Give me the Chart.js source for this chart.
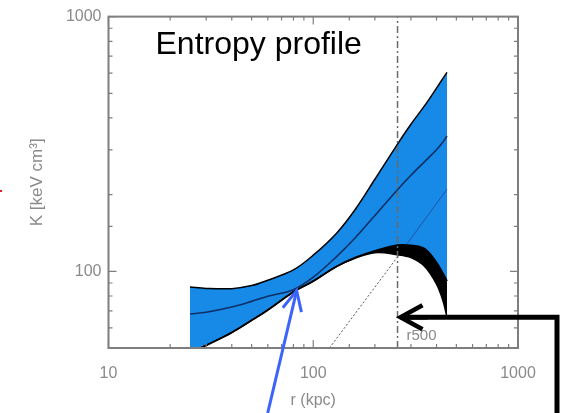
<!DOCTYPE html>
<html>
<head>
<meta charset="utf-8">
<script src="https://cdn.jsdelivr.net/npm/chart.js@4.4.1/dist/chart.umd.min.js"></script>
<style>
  html, body { margin: 0; padding: 0; background: #ffffff; }
  canvas { display: block; }
</style>
</head>
<body>
<canvas id="c" width="574" height="413"></canvas>
<script>
// Radius grid (kpc) shared by the profile curves
const radius = [25, 30, 40, 50, 60, 80, 100, 130, 160, 200, 258, 300, 350, 400, 430, 450];
// Upper envelope of the entropy band (keV cm^2)
const upperK = [86.8, 85.7, 85.5, 87.9, 92.3, 101.3, 115.7, 141.2, 174.5, 229.8, 316, 378, 447, 524, 572, 604];
// Best-fit entropy profile
const bestK = [68.0, 69.1, 72.4, 76.2, 79.8, 84.7, 94.8, 114.2, 135.1, 165.7, 209.1, 238.3, 269.7, 299.9, 322, 339.6];
// Lower envelope (top edge of the dark region)
const lowerK = [47.7, 51.2, 57.5, 64.2, 70.5, 83.0, 91.5, 104.5, 113.2, 120.4, 126.7, 126.4, 122.6, 108.3, 98.2, 91.5];
// Inner edge of the dark region
const innerK = [47.7, 51.2, 57.5, 64.2, 70.5, 83.0, 91.5, 104.5, 112.6, 118.3, 116.2, 113.2, 104.5, 89.1, 76.7, 66.0];
// Baseline power-law entropy
const baselineR = [120, 258, 450];
const baselineK = [50, 114, 210];
// Characteristic radius r500 (kpc)
const r500 = 258;
// Axis ranges and labelled decades
const xRange = [10, 1000];
const yRange = [50, 1000];
const decadeLabels = [10, 100, 1000];

const BLUE = '#168ae6';
const AXIS = '#7e7e7e';
const LABEL = '#8a8a8a';
const FONT = "'Liberation Sans', Arial, Helvetica, sans-serif";

const pts = (xs, ys) => xs.map((x, i) => ({ x: x, y: ys[i] }));
const isDecade = v => Math.abs(Math.log10(v) - Math.round(Math.log10(v))) < 1e-9;

function arrow(ctx, x0, y0, x1, y1, color, width, head, spread) {
  ctx.save();
  ctx.strokeStyle = color;
  ctx.lineWidth = width;
  ctx.lineCap = 'butt';
  ctx.lineJoin = 'miter';
  ctx.beginPath();
  ctx.moveTo(x0, y0);
  ctx.lineTo(x1, y1);
  ctx.stroke();
  const ang = Math.atan2(y0 - y1, x0 - x1);
  ctx.beginPath();
  ctx.moveTo(x1 + head * Math.cos(ang - spread), y1 + head * Math.sin(ang - spread));
  ctx.lineTo(x1, y1);
  ctx.lineTo(x1 + head * Math.cos(ang + spread), y1 + head * Math.sin(ang + spread));
  ctx.stroke();
  ctx.restore();
}

// Frame with inward ticks on all four sides, plus annotations
const decor = {
  id: 'decor',
  afterDatasetsDraw(chart) {
    const { ctx, chartArea: a, scales: { x, y } } = chart;
    ctx.save();
    ctx.strokeStyle = AXIS;
    ctx.lineWidth = 1.2;
    ctx.beginPath();
    x.ticks.forEach(t => {
      const px = x.getPixelForValue(t.value);
      const len = isDecade(t.value) ? 8 : 4;
      ctx.moveTo(px, a.bottom); ctx.lineTo(px, a.bottom - len);
      ctx.moveTo(px, a.top); ctx.lineTo(px, a.top + len);
    });
    y.ticks.forEach(t => {
      const py = y.getPixelForValue(t.value);
      const len = isDecade(t.value) ? 8 : 4;
      ctx.moveTo(a.left, py); ctx.lineTo(a.left + len, py);
      ctx.moveTo(a.right, py); ctx.lineTo(a.right - len, py);
    });
    ctx.stroke();
    ctx.lineWidth = 2;
    ctx.strokeRect(a.left, a.top, a.right - a.left, a.bottom - a.top);
    ctx.restore();
  },
  afterDraw(chart) {
    const { ctx, chartArea: a, scales: { x, y } } = chart;
    ctx.save();
    // plot title
    ctx.fillStyle = '#000000';
    ctx.font = '32px ' + FONT;
    ctx.textBaseline = 'alphabetic';
    ctx.textAlign = 'left';
    ctx.fillText('Entropy profile', a.left + 47, a.top + 37);
    // r500 label
    const rx = x.getPixelForValue(r500);
    ctx.fillStyle = LABEL;
    ctx.font = '15px ' + FONT;
    ctx.textBaseline = 'middle';
    ctx.fillText('r500', rx + 9, y.getPixelForValue(56));
    ctx.restore();

    // blue arrow pointing at the band
    const bx = x.getPixelForValue(83), by = y.getPixelForValue(84);
    arrow(ctx, bx - 29, chart.height, bx, by, '#3c64fa', 3, 22, 0.45);

    // black elbow arrow pointing at r500
    const ky = y.getPixelForValue(66);
    const kx = a.right + 39;
    ctx.save();
    ctx.strokeStyle = '#000000';
    ctx.lineWidth = 5;
    ctx.lineJoin = 'miter';
    ctx.beginPath();
    ctx.moveTo(kx, chart.height);
    ctx.lineTo(kx, ky);
    ctx.lineTo(rx + 4, ky);
    ctx.stroke();
    ctx.restore();
    arrow(ctx, rx + 30, ky, rx + 3, ky, '#000000', 4.5, 25, 0.5);

    // small red mark at the left edge
    ctx.save();
    ctx.fillStyle = '#e02020';
    ctx.fillRect(0, 190, 2, 2);
    ctx.restore();
  }
};

Chart.defaults.font.family = FONT;

new Chart(document.getElementById('c'), {
  type: 'line',
  data: {
    datasets: [
      { // 0: upper envelope, band filled down to the lower envelope
        data: pts(radius, upperK),
        borderColor: '#000000', borderWidth: 1.5,
        backgroundColor: BLUE,
        fill: { target: 2, above: BLUE, below: BLUE },
        order: 6
      },
      { // 1: baseline power law
        data: pts(baselineR, baselineK),
        borderColor: '#555555', borderWidth: 1, borderDash: [2, 2],
        segment: {
          borderColor: c => c.p0.parsed.x >= r500 ? '#1f56a8' : '#555555',
          borderDash: c => c.p0.parsed.x >= r500 ? [] : [2, 2]
        },
        tension: 0, fill: false,
        order: 5
      },
      { // 2: lower envelope, dark region filled down to the inner edge
        data: pts(radius, lowerK),
        borderColor: '#000000', borderWidth: 1.8,
        backgroundColor: '#000000',
        fill: { target: 3, above: '#000000', below: '#000000' },
        order: 4
      },
      { // 3: inner edge
        data: pts(radius, innerK),
        borderColor: '#000000', borderWidth: 1.5,
        fill: false,
        order: 3
      },
      { // 4: best-fit profile
        data: pts(radius, bestK),
        borderColor: '#0f2f66', borderWidth: 1.6,
        fill: false,
        order: 2
      },
      { // 5: r500 marker
        data: pts([r500, r500], yRange),
        borderColor: '#6a6a6a', borderWidth: 1.5, borderDash: [7, 3, 2, 3],
        tension: 0, fill: false,
        order: 1
      }
    ]
  },
  options: {
    responsive: false,
    animation: false,
    events: [],
    layout: { padding: { left: 0, top: 10, right: 56, bottom: 0 } },
    elements: {
      point: { radius: 0, hoverRadius: 0 },
      line: { tension: 0.35, borderCapStyle: 'butt' }
    },
    plugins: {
      legend: { display: false },
      tooltip: { enabled: false },
      title: { display: false }
    },
    scales: {
      x: {
        type: 'logarithmic',
        min: xRange[0], max: xRange[1],
        grid: { display: false, drawTicks: false },
        border: { display: false },
        ticks: {
          autoSkip: false, maxRotation: 0, padding: 16,
          color: LABEL, font: { size: 16 },
          callback: v => decadeLabels.some(d => Math.abs(d - v) < 1e-6) ? String(v) : ''
        },
        title: {
          display: true, text: 'r (kpc)', color: LABEL,
          font: { size: 16 }, padding: { top: 0, bottom: 3 }
        },
        afterFit: s => { s.height = 65; }
      },
      y: {
        type: 'logarithmic',
        min: yRange[0], max: yRange[1],
        grid: { display: false, drawTicks: false },
        border: { display: false },
        ticks: {
          autoSkip: false, padding: 7,
          color: LABEL, font: { size: 16 },
          callback: v => decadeLabels.some(d => Math.abs(d - v) < 1e-6) ? String(v) : ''
        },
        title: {
          display: true, text: 'K [keV cm\u00B3]', color: LABEL,
          font: { size: 17 }, padding: { top: 27, bottom: 0 }
        },
        afterFit: s => { s.width = 108.5; }
      }
    }
  },
  plugins: [decor]
});
</script>
</body>
</html>
